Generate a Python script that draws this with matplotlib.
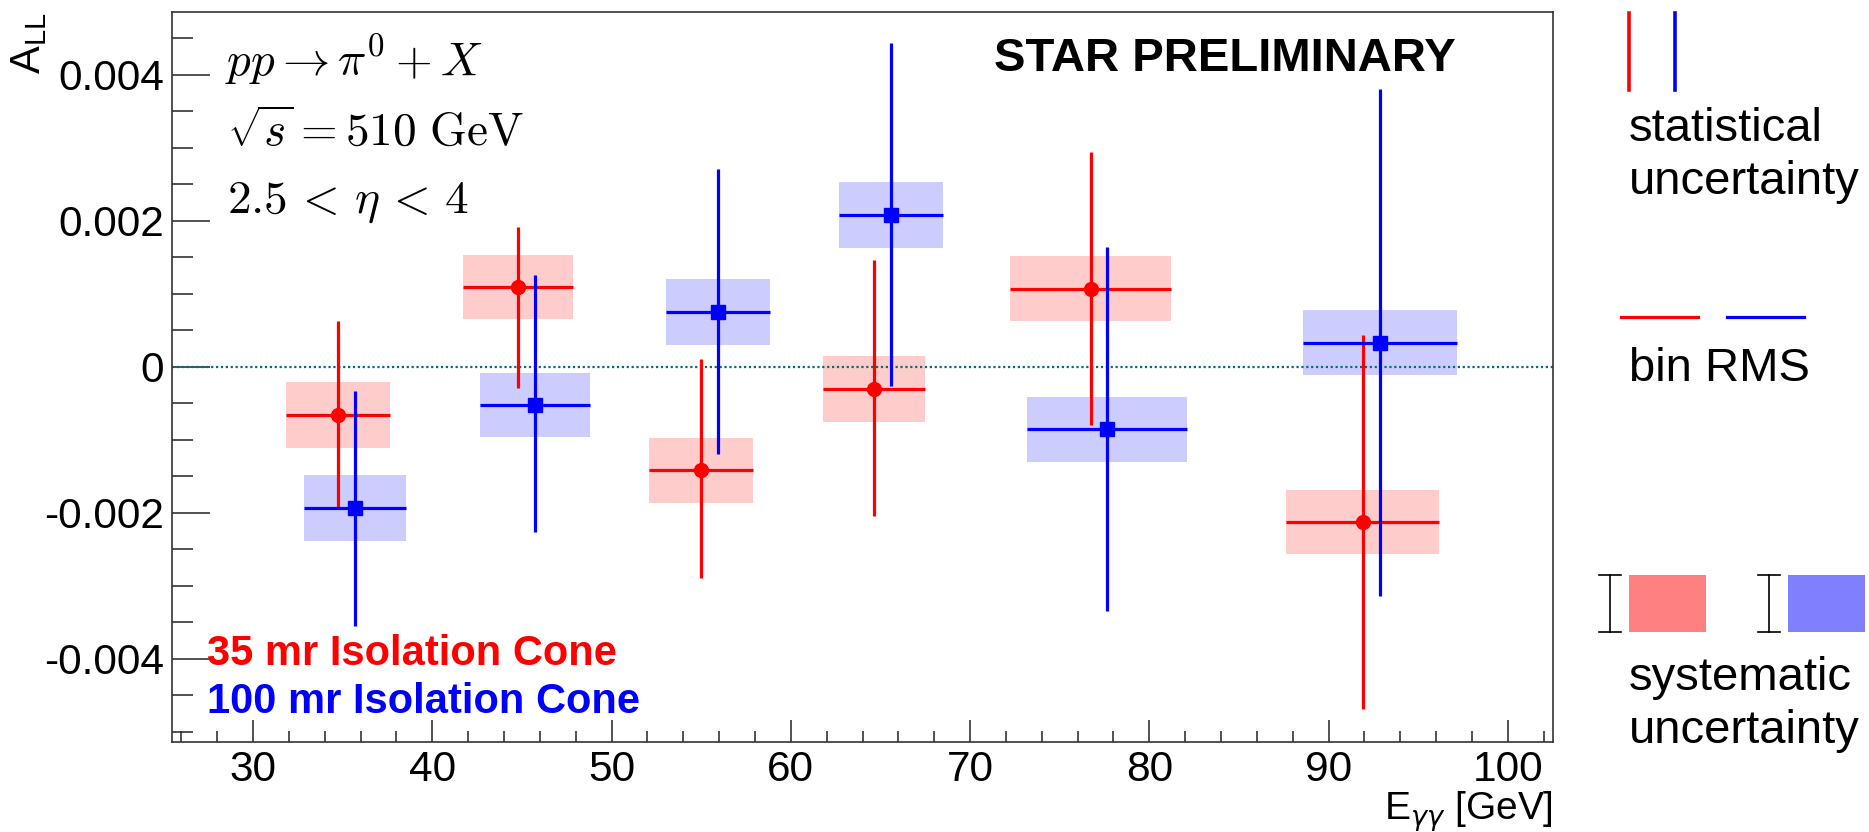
import matplotlib
matplotlib.use('Agg')
import matplotlib.pyplot as plt
from matplotlib.patches import Rectangle
from matplotlib.lines import Line2D
from matplotlib.ticker import FixedLocator, FixedFormatter, MultipleLocator

plt.rcParams['font.family'] = ['Liberation Sans', 'DejaVu Sans']

# 35 mr isolation cone
e35 = [34.76, 44.79, 54.97, 64.66, 76.73, 91.90]
a35 = [-0.00066, 0.00109, -0.00142, -0.00031, 0.00107, -0.00213]
stat35_lo = [0.00126, 0.00138, 0.00148, 0.00174, 0.00187, 0.00256]
stat35_hi = [0.00129, 0.00083, 0.00152, 0.00177, 0.00187, 0.00257]
rms35 = [2.9, 3.05, 2.9, 2.85, 4.5, 4.25]
sys35 = [0.00045, 0.00044, 0.00045, 0.00045, 0.00045, 0.00044]

# 100 mr isolation cone
e100 = [35.70, 45.73, 55.94, 65.60, 77.65, 92.87]
a100 = [-0.00194, -0.00052, 0.00075, 0.00208, -0.00086, 0.00033]
stat100_lo = [0.00161, 0.00174, 0.00194, 0.00235, 0.00248, 0.00347]
stat100_hi = [0.00161, 0.00177, 0.00196, 0.00235, 0.00250, 0.00347]
rms100 = [2.85, 3.05, 2.9, 2.9, 4.45, 4.3]
sys100 = [0.00045, 0.00044, 0.00045, 0.00045, 0.00045, 0.00045]

xticks = [30, 40, 50, 60, 70, 80, 90, 100]
yticks = [-0.004, -0.002, 0, 0.002, 0.004]
ytick_labels = ['-0.004', '-0.002', '0', '0.002', '0.004']

W, H = 1869, 832
fig = plt.figure(figsize=(W / 100, H / 100), dpi=100)
ax = fig.add_axes([172.3 / W, 1 - 742 / H, (1552.7 - 172.3) / W, (742 - 12) / H])
ax.set_xlim(25.5, 102.5)
ax.set_ylim(-0.005141, 0.004859)

# systematic boxes
for x, a, r, s in zip(e35, a35, rms35, sys35):
    ax.add_patch(Rectangle((x - r, a - s), 2 * r, 2 * s, facecolor='#ffcccc',
                           edgecolor='none', zorder=1))
for x, a, r, s in zip(e100, a100, rms100, sys100):
    ax.add_patch(Rectangle((x - r, a - s), 2 * r, 2 * s, facecolor='#ccccff',
                           edgecolor='none', zorder=1))

ax.axhline(0, color='#007070', lw=1.6, ls=(0, (1, 1.2)), zorder=2)

ax.errorbar(e35, a35, xerr=rms35, yerr=[stat35_lo, stat35_hi], fmt='o',
            color='red', ms=10, lw=2.3, capsize=0, zorder=3)
ax.errorbar(e100, a100, xerr=rms100, yerr=[stat100_lo, stat100_hi], fmt='s',
            color='blue', ms=10, lw=2.3, capsize=0, zorder=3)

ax.xaxis.set_major_locator(FixedLocator(xticks))
ax.xaxis.set_minor_locator(MultipleLocator(2))
ax.yaxis.set_major_locator(FixedLocator(yticks))
ax.yaxis.set_major_formatter(FixedFormatter(ytick_labels))
ax.yaxis.set_minor_locator(MultipleLocator(0.0005))
ax.tick_params(axis='both', which='both', direction='in', color='#333333',
               width=1.2, labelsize=30.5)
ax.tick_params(axis='x', which='major', length=16, pad=6)
ax.tick_params(axis='x', which='minor', length=8)
ax.tick_params(axis='y', which='major', length=27, pad=6)
ax.tick_params(axis='y', which='minor', length=15)
for sp in ax.spines.values():
    sp.set_color('#333333')
    sp.set_linewidth(1.2)

# annotations inside the frame
ax.text(225 / W, 1 - 75 / H, r'$pp \rightarrow \pi^{0} + X$', transform=fig.transFigure,
        fontsize=34, math_fontfamily='cm', va='baseline')
ax.text(227 / W, 1 - 146 / H, r'$\sqrt{s} = 510\ \mathrm{GeV}$', transform=fig.transFigure,
        fontsize=34, math_fontfamily='cm', va='baseline')
ax.text(227 / W, 1 - 213 / H, r'$2.5 \,<\, \eta \,<\, 4$', transform=fig.transFigure,
        fontsize=34, math_fontfamily='cm', va='baseline')
fig.text(1456 / W, 1 - 71 / H, 'STAR PRELIMINARY', fontsize=34, fontweight='bold',
         ha='right', va='baseline')
fig.text(207 / W, 1 - 665 / H, '35 mr Isolation Cone', fontsize=30, fontweight='bold',
         color='red', va='baseline')
fig.text(207 / W, 1 - 713 / H, '100 mr Isolation Cone', fontsize=30, fontweight='bold',
         color='blue', va='baseline')

# axis titles
fig.text(29 / W, 1 - 12 / H, r'A$_\mathregular{LL}$', rotation=90, fontsize=30,
         ha='center', va='top')
fig.text(1552.7 / W, 1 - 820 / H, r'E$_{\gamma\gamma}$ [GeV]', fontsize=28,
         ha='right', va='baseline')

# key on the right
key = fig.add_axes([0, 0, 1, 1])
key.set_xlim(0, W)
key.set_ylim(H, 0)
key.axis('off')
key.add_line(Line2D([1629, 1629], [13, 90], color='red', lw=2.6))
key.add_line(Line2D([1674.5, 1674.5], [13, 90], color='blue', lw=2.6))
key.text(1629, 141, 'statistical', fontsize=34, va='baseline')
key.text(1629, 194, 'uncertainty', fontsize=34, va='baseline')
key.add_line(Line2D([1621, 1698], [317, 317], color='red', lw=2.3))
key.add_line(Line2D([1727, 1804], [317, 317], color='blue', lw=2.3))
key.text(1629, 381, 'bin RMS', fontsize=34, va='baseline')
for xi in (1610, 1769):
    key.add_line(Line2D([xi, xi], [575, 632], color='black', lw=1.2))
    key.add_line(Line2D([xi - 11, xi + 11], [575, 575], color='black', lw=1.2))
    key.add_line(Line2D([xi - 11, xi + 11], [632, 632], color='black', lw=1.2))
key.add_patch(Rectangle((1629, 575), 77, 57, facecolor='#ff8080', edgecolor='none'))
key.add_patch(Rectangle((1788, 575), 77, 57, facecolor='#8080ff', edgecolor='none'))
key.text(1629, 690, 'systematic', fontsize=34, va='baseline')
key.text(1629, 743, 'uncertainty', fontsize=34, va='baseline')

fig.savefig('out.png', dpi=100)
